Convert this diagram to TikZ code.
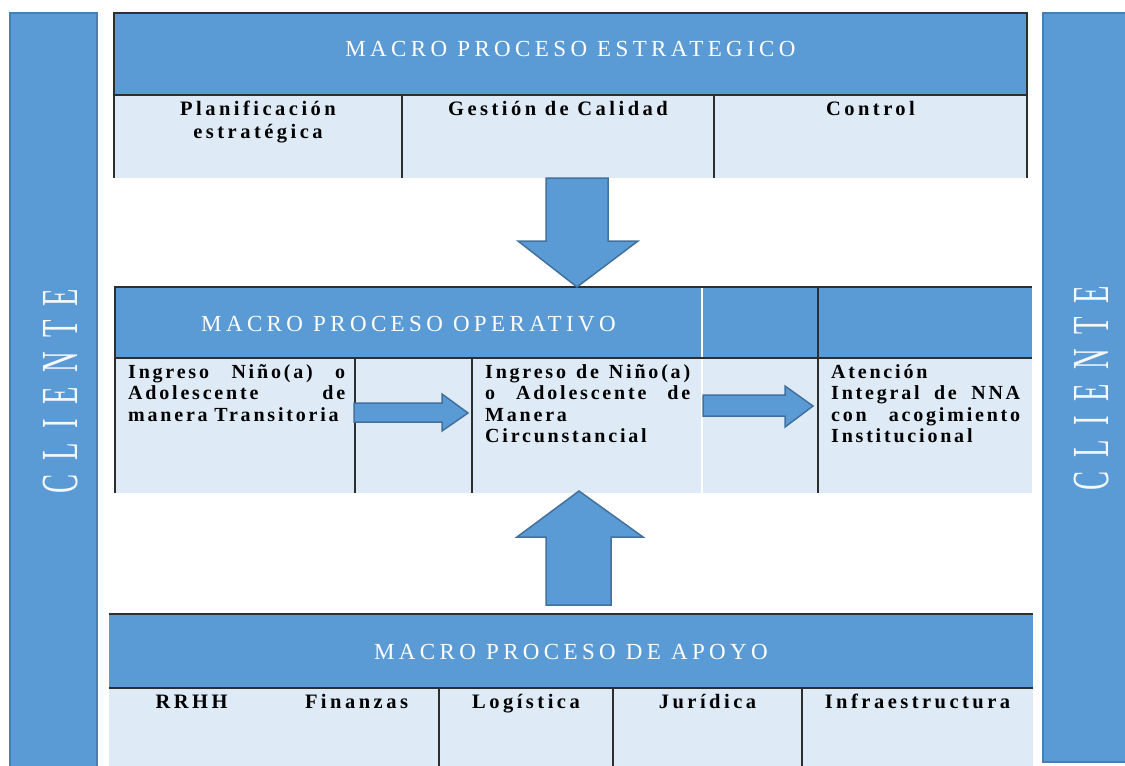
\documentclass[tikz,border=0pt]{standalone}
\usepackage{fontspec}
\setmainfont{Liberation Serif}
\newfontfamily\cellfont[LetterSpace=17]{Liberation Serif}
\newfontfamily\bodyfont[LetterSpace=14]{Liberation Serif}
\newfontfamily\titlefont[LetterSpace=19]{Liberation Serif}
\newfontfamily\clientfont[LetterSpace=50]{Liberation Serif}
\usepackage{tikz}
\usetikzlibrary{positioning, calc}
\definecolor{hdrblue}{HTML}{5B9BD5}
\definecolor{cellblue}{HTML}{DEEAF6}
\definecolor{linegray}{HTML}{2E2E2E}
\definecolor{baredge}{HTML}{4A7DB0}
\definecolor{arrowedge}{HTML}{41719C}
\definecolor{clientwhite}{HTML}{F4F8FC}
\tikzstyle{header} = [rectangle,
    inner sep=0pt,
    outer sep=0pt,
    fill=hdrblue]
\tikzstyle{cell} = [rectangle,
    inner sep=0pt,
    outer sep=0pt,
    fill=cellblue]
\tikzstyle{sidebar} = [rectangle,
    inner sep=0pt,
    outer sep=0pt,
    fill=hdrblue,
    draw=baredge,
    line width=1.5pt]
\tikzstyle{headtitle} = [inner sep=0pt,
    text=white,
    font=\titlefont\fontsize{23}{26}\selectfont]
\tikzstyle{celltext} = [inner sep=0pt,
    align=center,
    font=\cellfont\bfseries\fontsize{20.5}{23}\selectfont]
\tikzstyle{bodytext} = [inner sep=0pt,
    align=left,
    font=\bodyfont\bfseries\fontsize{20}{21.5}\selectfont]
\tikzstyle{clientlabel} = [inner sep=0pt,
    rotate=90,
    text=clientwhite,
    font=\clientfont\fontsize{52}{52}\selectfont]
\tikzstyle{gridline} = [draw=linegray, line width=1.3pt]
\tikzstyle{softline} = [draw=white, line width=1.3pt]
\tikzstyle{blockarrow} = [fill=hdrblue, draw=arrowedge, line width=1.5pt, line join=miter]

\begin{document}
\begin{tikzpicture}[x=1pt, y=-1pt]
        \useasboundingbox (0,0) rectangle (1125,766);

        % side bars
        \node (client_left) [sidebar, minimum width=87pt, minimum height=762pt, anchor=north west] at (10,13) {};
        \node (client_right) [sidebar, minimum width=86pt, minimum height=749pt, anchor=north west] at (1043,13) {};
        \node [clientlabel] at (61,391) {\scalebox{0.55}[1]{CLIENTE}};
        \node [clientlabel] at (1092,388) {\scalebox{0.55}[1]{CLIENTE}};

        % macro proceso estrategico
        \node (estrategico) [header, minimum width=913pt, minimum height=82pt, anchor=north west] at (114,13) {};
        \node (planif) [cell, minimum width=288pt, minimum height=83pt, anchor=north west] at (estrategico.south west) {};
        \node (calidad) [cell, minimum width=312pt, minimum height=83pt, anchor=north west] at (planif.north east) {};
        \node (control) [cell, minimum width=313pt, minimum height=83pt, anchor=north west] at (calidad.north east) {};

        \draw [gridline] (planif.south west) -- (estrategico.north west) -- (estrategico.north east) -- (control.south east);
        \draw [gridline] (estrategico.south west) -- (estrategico.south east);
        \draw [gridline] (planif.north east) -- (planif.south east);
        \draw [gridline] (calidad.north east) -- (calidad.south east);

        \node [headtitle, anchor=base] at ($(estrategico.north)+(0,43)$) {MACRO PROCESO ESTRATEGICO};
        \node [celltext, anchor=base, text width=288pt] at ($(planif.north)+(0,20)$) {Planificación\\estratégica};
        \node [celltext, anchor=base] at ($(calidad.north)+(0,20)$) {Gestión de Calidad};
        \node [celltext, anchor=base] at ($(control.north)+(0,20)$) {Control};

        % macro proceso operativo
        \node (operativo) [header, minimum width=587pt, minimum height=71pt, anchor=north west] at (115,287) {};
        \node (op_mid) [header, minimum width=116pt, minimum height=71pt, anchor=north west] at (operativo.north east) {};
        \node (op_end) [header, minimum width=214pt, minimum height=71pt, anchor=north west] at (op_mid.north east) {};
        \node (transitoria) [cell, minimum width=240pt, minimum height=135pt, anchor=north west] at (operativo.south west) {};
        \node (gap_a) [cell, minimum width=117pt, minimum height=135pt, anchor=north west] at (transitoria.north east) {};
        \node (circunstancial) [cell, minimum width=230pt, minimum height=135pt, anchor=north west] at (gap_a.north east) {};
        \node (gap_b) [cell, minimum width=116pt, minimum height=135pt, anchor=north west] at (circunstancial.north east) {};
        \node (integral) [cell, minimum width=214pt, minimum height=135pt, anchor=north west] at (gap_b.north east) {};

        \draw [softline] (operativo.north east) -- (circunstancial.south east);
        \draw [gridline] (transitoria.south west) -- (operativo.north west) -- (op_end.north east);
        \draw [gridline] (operativo.south west) -- (op_end.south east);
        \draw [gridline] (transitoria.north east) -- (transitoria.south east);
        \draw [gridline] (gap_a.north east) -- (gap_a.south east);
        \draw [gridline] (op_end.north west) -- (integral.south west);

        \node [headtitle, anchor=base] at ($(operativo.north)+(0,44)$) {MACRO PROCESO OPERATIVO};
        \node [bodytext, anchor=base west, text width=217pt] at ($(transitoria.north west)+(13,20)$)
        {\makebox[217pt][s]{Ingreso\hfill Niño(a)\hfill o}\\\makebox[217pt][s]{Adolescente\hfill de}\\manera Transitoria};
        \node [bodytext, anchor=base west, text width=205pt] at ($(circunstancial.north west)+(13,20)$)
        {\makebox[205pt][s]{Ingreso\hfill de\hfill Niño(a)}\\\makebox[205pt][s]{o\hfill Adolescente\hfill de}\\Manera\\Circunstancial};
        \node [bodytext, anchor=base west, text width=189pt] at ($(integral.north west)+(13,20)$)
        {Atención\\\makebox[189pt][s]{Integral\hfill de\hfill NNA}\\\makebox[189pt][s]{con\hfill acogimiento}\\Institucional};

        % macro proceso de apoyo
        \node (apoyo) [header, minimum width=924pt, minimum height=74pt, anchor=north west] at (109,614) {};
        \node (rrhh) [cell, minimum width=330pt, minimum height=80pt, anchor=north west] at (apoyo.south west) {};
        \node (logistica) [cell, minimum width=174pt, minimum height=80pt, anchor=north west] at (rrhh.north east) {};
        \node (juridica) [cell, minimum width=189pt, minimum height=80pt, anchor=north west] at (logistica.north east) {};
        \node (infra) [cell, minimum width=231pt, minimum height=80pt, anchor=north west] at (juridica.north east) {};

        \draw [gridline] (apoyo.north west) -- (apoyo.north east);
        \draw [gridline] (apoyo.south west) -- (apoyo.south east);
        \draw [gridline] (rrhh.north east) -- (rrhh.south east);
        \draw [gridline] (logistica.north east) -- (logistica.south east);
        \draw [gridline] (juridica.north east) -- (juridica.south east);

        \node [headtitle, anchor=base] at ($(apoyo.north)+(0,45)$) {MACRO PROCESO DE APOYO};
        \node [celltext, anchor=base] at ($(rrhh.north west)+(82.5,20)$) {RRHH};
        \node [celltext, anchor=base] at ($(rrhh.north west)+(247.5,20)$) {Finanzas};
        \node [celltext, anchor=base] at ($(logistica.north)+(0,20)$) {Logística};
        \node [celltext, anchor=base] at ($(juridica.north)+(0,20)$) {Jurídica};
        \node [celltext, anchor=base] at ($(infra.north)+(0,20)$) {Infraestructura};

        % block arrows
        \draw [blockarrow] (546,178) -- (608,178) -- (608,241) -- (638,241) -- (577,287) -- (518,241) -- (546,241) -- cycle;
        \draw [blockarrow] (546,605) -- (611,605) -- (611,537) -- (643,537) -- (579,491) -- (517,537) -- (546,537) -- cycle;
        \draw [blockarrow] (354,403) -- (442,403) -- (442,394) -- (468,413) -- (442,431) -- (442,422) -- (354,422) -- cycle;
        \draw [blockarrow] (703,395) -- (785,395) -- (785,386) -- (813,406) -- (785,427) -- (785,416) -- (703,416) -- cycle;
    \end{tikzpicture}
\end{document}
